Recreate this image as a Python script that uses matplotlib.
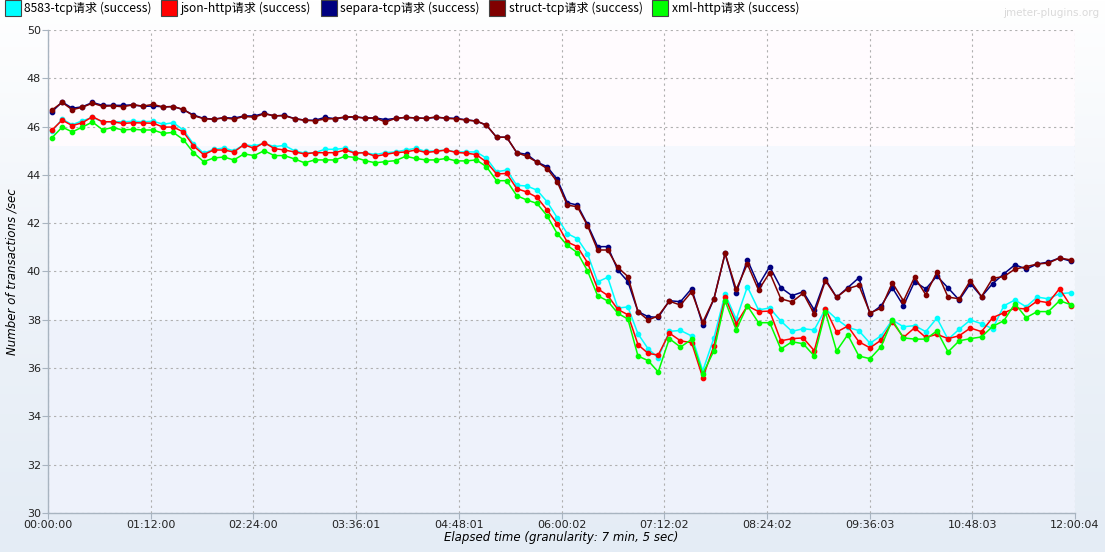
import matplotlib
matplotlib.use("Agg")
import matplotlib.pyplot as plt
from matplotlib.lines import Line2D
from matplotlib.colors import LinearSegmentedColormap
import numpy as np

plt.rcParams['font.family'] = ['Noto Sans CJK SC', 'DejaVu Sans']
plt.rcParams['axes.unicode_minus'] = False

# elapsed time of each point (seconds)
elapsed_sec = [
    170, 595, 1020, 1445, 1870, 2295, 2720, 3145, 3570, 3995,
    4420, 4845, 5270, 5695, 6120, 6545, 6970, 7395, 7820, 8245,
    8670, 9095, 9520, 9945, 10370, 10795, 11220, 11645, 12070, 12495,
    12920, 13345, 13770, 14195, 14620, 15045, 15470, 15895, 16320, 16745,
    17170, 17595, 18020, 18445, 18870, 19295, 19720, 20145, 20570, 20995,
    21420, 21845, 22270, 22695, 23120, 23545, 23970, 24395, 24820, 25245,
    25670, 26139, 26608, 27077, 27546, 28015, 28484, 28953, 29422, 29891,
    30360, 30829, 31298, 31767, 32236, 32705, 33174, 33643, 34112, 34581,
    35050, 35519, 35988, 36457, 36926, 37395, 37864, 38333, 38802, 39271,
    39740, 40209, 40678, 41147, 41616, 42085, 42554, 43023,
]

tcp_8583 = [
    45.82, 46.31, 46.08, 46.24, 46.38, 46.20, 46.20, 46.20, 46.22, 46.20,
    46.22, 46.10, 46.16, 45.86, 45.28, 44.90, 45.06, 45.11, 45.00, 45.25,
    45.20, 45.31, 45.17, 45.22, 45.00, 44.90, 44.92, 45.06, 45.06, 45.10,
    44.92, 44.92, 44.84, 44.92, 44.95, 45.03, 45.10, 44.97, 45.00, 45.03,
    44.95, 44.95, 44.95, 44.69, 44.13, 44.20, 43.57, 43.54, 43.37, 42.89,
    42.23, 41.57, 41.36, 40.74, 39.57, 39.76, 38.49, 38.53, 37.42, 36.80,
    36.43, 37.52, 37.56, 37.33, 35.89, 37.25, 39.07, 38.02, 39.37, 38.41,
    38.49, 37.95, 37.52, 37.63, 37.58, 38.45, 38.03, 37.69, 37.55, 37.03,
    37.34, 37.99, 37.71, 37.76, 37.51, 38.07, 37.19, 37.61, 37.99, 37.84,
    37.63, 38.58, 38.82, 38.54, 38.94, 38.87, 39.08, 39.12,
]

json_http = [
    45.86, 46.27, 46.04, 46.16, 46.41, 46.20, 46.20, 46.13, 46.16, 46.15,
    46.14, 45.98, 45.98, 45.78, 45.20, 44.84, 45.03, 45.03, 44.95, 45.25,
    45.10, 45.34, 45.09, 45.03, 44.95, 44.87, 44.92, 44.92, 44.92, 45.03,
    44.90, 44.92, 44.77, 44.85, 44.92, 44.95, 45.03, 44.93, 44.97, 45.03,
    44.93, 44.90, 44.84, 44.53, 44.04, 44.06, 43.43, 43.29, 43.07, 42.55,
    41.97, 41.22, 41.03, 40.37, 39.29, 39.01, 38.43, 38.21, 36.97, 36.61,
    36.54, 37.45, 37.13, 37.05, 35.60, 36.92, 38.94, 37.84, 38.58, 38.34,
    38.36, 37.13, 37.22, 37.25, 36.72, 38.46, 37.49, 37.74, 37.09, 36.84,
    37.16, 37.92, 37.27, 37.67, 37.27, 37.40, 37.22, 37.34, 37.66, 37.51,
    38.09, 38.29, 38.48, 38.45, 38.78, 38.71, 39.29, 38.58,
]

separa_tcp = [
    46.62, 47.02, 46.76, 46.82, 47.00, 46.88, 46.88, 46.88, 46.90, 46.84,
    46.85, 46.82, 46.83, 46.70, 46.48, 46.34, 46.31, 46.37, 46.35, 46.44,
    46.44, 46.55, 46.44, 46.47, 46.33, 46.27, 46.26, 46.38, 46.33, 46.38,
    46.40, 46.36, 46.36, 46.29, 46.34, 46.38, 46.36, 46.34, 46.38, 46.36,
    46.34, 46.28, 46.23, 46.06, 45.56, 45.56, 44.92, 44.85, 44.53, 44.34,
    43.82, 42.85, 42.75, 41.95, 41.03, 41.03, 40.06, 39.58, 38.34, 38.13,
    38.10, 38.79, 38.75, 39.29, 37.78, 38.87, 40.75, 39.12, 40.48, 39.43,
    40.20, 39.33, 39.00, 39.16, 38.41, 39.68, 38.93, 39.33, 39.74, 38.24,
    38.58, 39.33, 38.58, 39.58, 39.28, 39.81, 39.32, 38.82, 39.50, 38.96,
    39.50, 39.90, 40.28, 40.10, 40.31, 40.39, 40.56, 40.43,
]

struct_tcp = [
    46.69, 47.00, 46.70, 46.80, 46.97, 46.84, 46.86, 46.82, 46.90, 46.85,
    46.92, 46.81, 46.83, 46.71, 46.45, 46.33, 46.30, 46.36, 46.31, 46.42,
    46.39, 46.53, 46.45, 46.45, 46.33, 46.26, 46.24, 46.31, 46.33, 46.40,
    46.41, 46.34, 46.36, 46.19, 46.34, 46.38, 46.36, 46.34, 46.40, 46.34,
    46.32, 46.27, 46.23, 46.06, 45.56, 45.56, 44.92, 44.77, 44.53, 44.26,
    43.72, 42.75, 42.68, 41.90, 40.89, 40.89, 40.17, 39.79, 38.34, 37.99,
    38.16, 38.77, 38.61, 39.16, 37.90, 38.87, 40.75, 39.26, 40.31, 39.23,
    39.95, 38.87, 38.74, 39.10, 38.24, 39.62, 38.93, 39.29, 39.43, 38.29,
    38.48, 39.54, 38.78, 39.77, 39.04, 39.98, 38.94, 38.87, 39.62, 38.96,
    39.72, 39.79, 40.10, 40.20, 40.31, 40.35, 40.56, 40.48,
]

xml_http = [
    45.54, 45.98, 45.78, 45.98, 46.19, 45.87, 45.96, 45.86, 45.89, 45.86,
    45.86, 45.72, 45.76, 45.46, 44.92, 44.55, 44.70, 44.74, 44.62, 44.87,
    44.80, 45.00, 44.80, 44.80, 44.66, 44.50, 44.62, 44.62, 44.62, 44.77,
    44.72, 44.59, 44.50, 44.55, 44.59, 44.77, 44.68, 44.62, 44.62, 44.68,
    44.58, 44.58, 44.62, 44.34, 43.76, 43.76, 43.14, 42.96, 42.82, 42.31,
    41.57, 41.08, 40.78, 40.03, 39.00, 38.78, 38.27, 38.03, 36.50, 36.31,
    35.84, 37.22, 36.87, 37.19, 35.76, 36.72, 38.78, 37.59, 38.58, 37.88,
    37.88, 36.79, 37.09, 37.01, 36.50, 38.31, 36.71, 37.38, 36.50, 36.39,
    36.89, 37.99, 37.25, 37.20, 37.20, 37.54, 36.67, 37.13, 37.22, 37.29,
    37.73, 37.96, 38.67, 38.09, 38.34, 38.34, 38.79, 38.63,
]

series_names = ['8583-tcp请求 (success)', 'json-http请求 (success)',
                'separa-tcp请求 (success)', 'struct-tcp请求 (success)',
                'xml-http请求 (success)']
series_values = [tcp_8583, json_http, separa_tcp, struct_tcp, xml_http]
series_colors = ['#00FFFF', '#FF0000', '#000080', '#800000', '#00FF00']

total_sec = 43204
x_tick_labels = ['00:00:00', '01:12:00', '02:24:00', '03:36:01', '04:48:01',
                 '06:00:02', '07:12:02', '08:24:02', '09:36:03', '10:48:03',
                 '12:00:04']
y_ticks = list(range(30, 51, 2))

# background bands of the plot area (lower bound, colour)
band_edges = [30, 38, 45.2, 50]
band_colors = ['#EEF2FB', '#F5F8FE', '#FFFBFE']


fig = plt.figure(figsize=(11.05, 5.52), dpi=100)

# figure background: white at top fading to light blue
bg = fig.add_axes([0, 0, 1, 1], zorder=-10)
bg_cmap = LinearSegmentedColormap.from_list('bg', ['#E4ECF5', '#EEF3F9', '#FFFFFF'])
bg.imshow(np.linspace(0, 1, 256).reshape(-1, 1), cmap=bg_cmap, aspect='auto',
          extent=[0, 1, 0, 1], origin='lower')
bg.set_axis_off()

ax = fig.add_axes([48 / 1105, 1 - 513 / 552, (1075 - 48) / 1105, (513 - 30) / 552])
ax.set_xlim(0, total_sec)
ax.set_ylim(30, 50)

for lo, hi, col in zip(band_edges[:-1], band_edges[1:], band_colors):
    ax.axhspan(lo, hi, color=col, lw=0, zorder=0)

for name, vals, col in zip(series_names, series_values, series_colors):
    ax.plot(elapsed_sec, vals, color=col, lw=1.1, marker='o', ms=3.1,
            label=name, zorder=3)

ax.set_xticks(np.linspace(0, total_sec, len(x_tick_labels)))
ax.set_xticklabels(x_tick_labels, fontsize=8, family='DejaVu Sans')
ax.set_yticks(y_ticks)
ax.set_yticklabels([str(v) for v in y_ticks], fontsize=8, family='DejaVu Sans')
ax.tick_params(length=4, color='#A8B4C0', labelcolor='#222222', pad=1)
ax.grid(True, linestyle=(0, (2, 3)), color='#B0B0B0', lw=0.8)
ax.set_axisbelow(True)

for side in ['top', 'right']:
    ax.spines[side].set_visible(False)
for side in ['left', 'bottom']:
    ax.spines[side].set_color('#A8B4C0')
    ax.spines[side].set_linewidth(1.0)

ax.set_xlabel('Elapsed time (granularity: 7 min, 5 sec)', fontsize=8.5,
              style='italic', family='DejaVu Sans', labelpad=1)
ax.set_ylabel('Number of transactions /sec', fontsize=8.5, style='italic',
              family='DejaVu Sans', labelpad=6)

# legend row at the top
handles = [Line2D([], [], marker='s', ls='none', ms=11, markerfacecolor=c,
                  markeredgecolor='#444444', markeredgewidth=0.8)
           for c in series_colors]
fig.legend(handles, series_names, loc='upper left', bbox_to_anchor=(0.0, 1.01),
           ncol=5, frameon=False, fontsize=8.7, handlelength=0.9,
           handletextpad=0.5, columnspacing=1.0, borderaxespad=0.2)

fig.text(0.995, 0.985, 'jmeter-plugins.org', ha='right', va='top',
         fontsize=7.5, color='#DADADA', family='DejaVu Sans')

fig.savefig('out.png', dpi=100)
